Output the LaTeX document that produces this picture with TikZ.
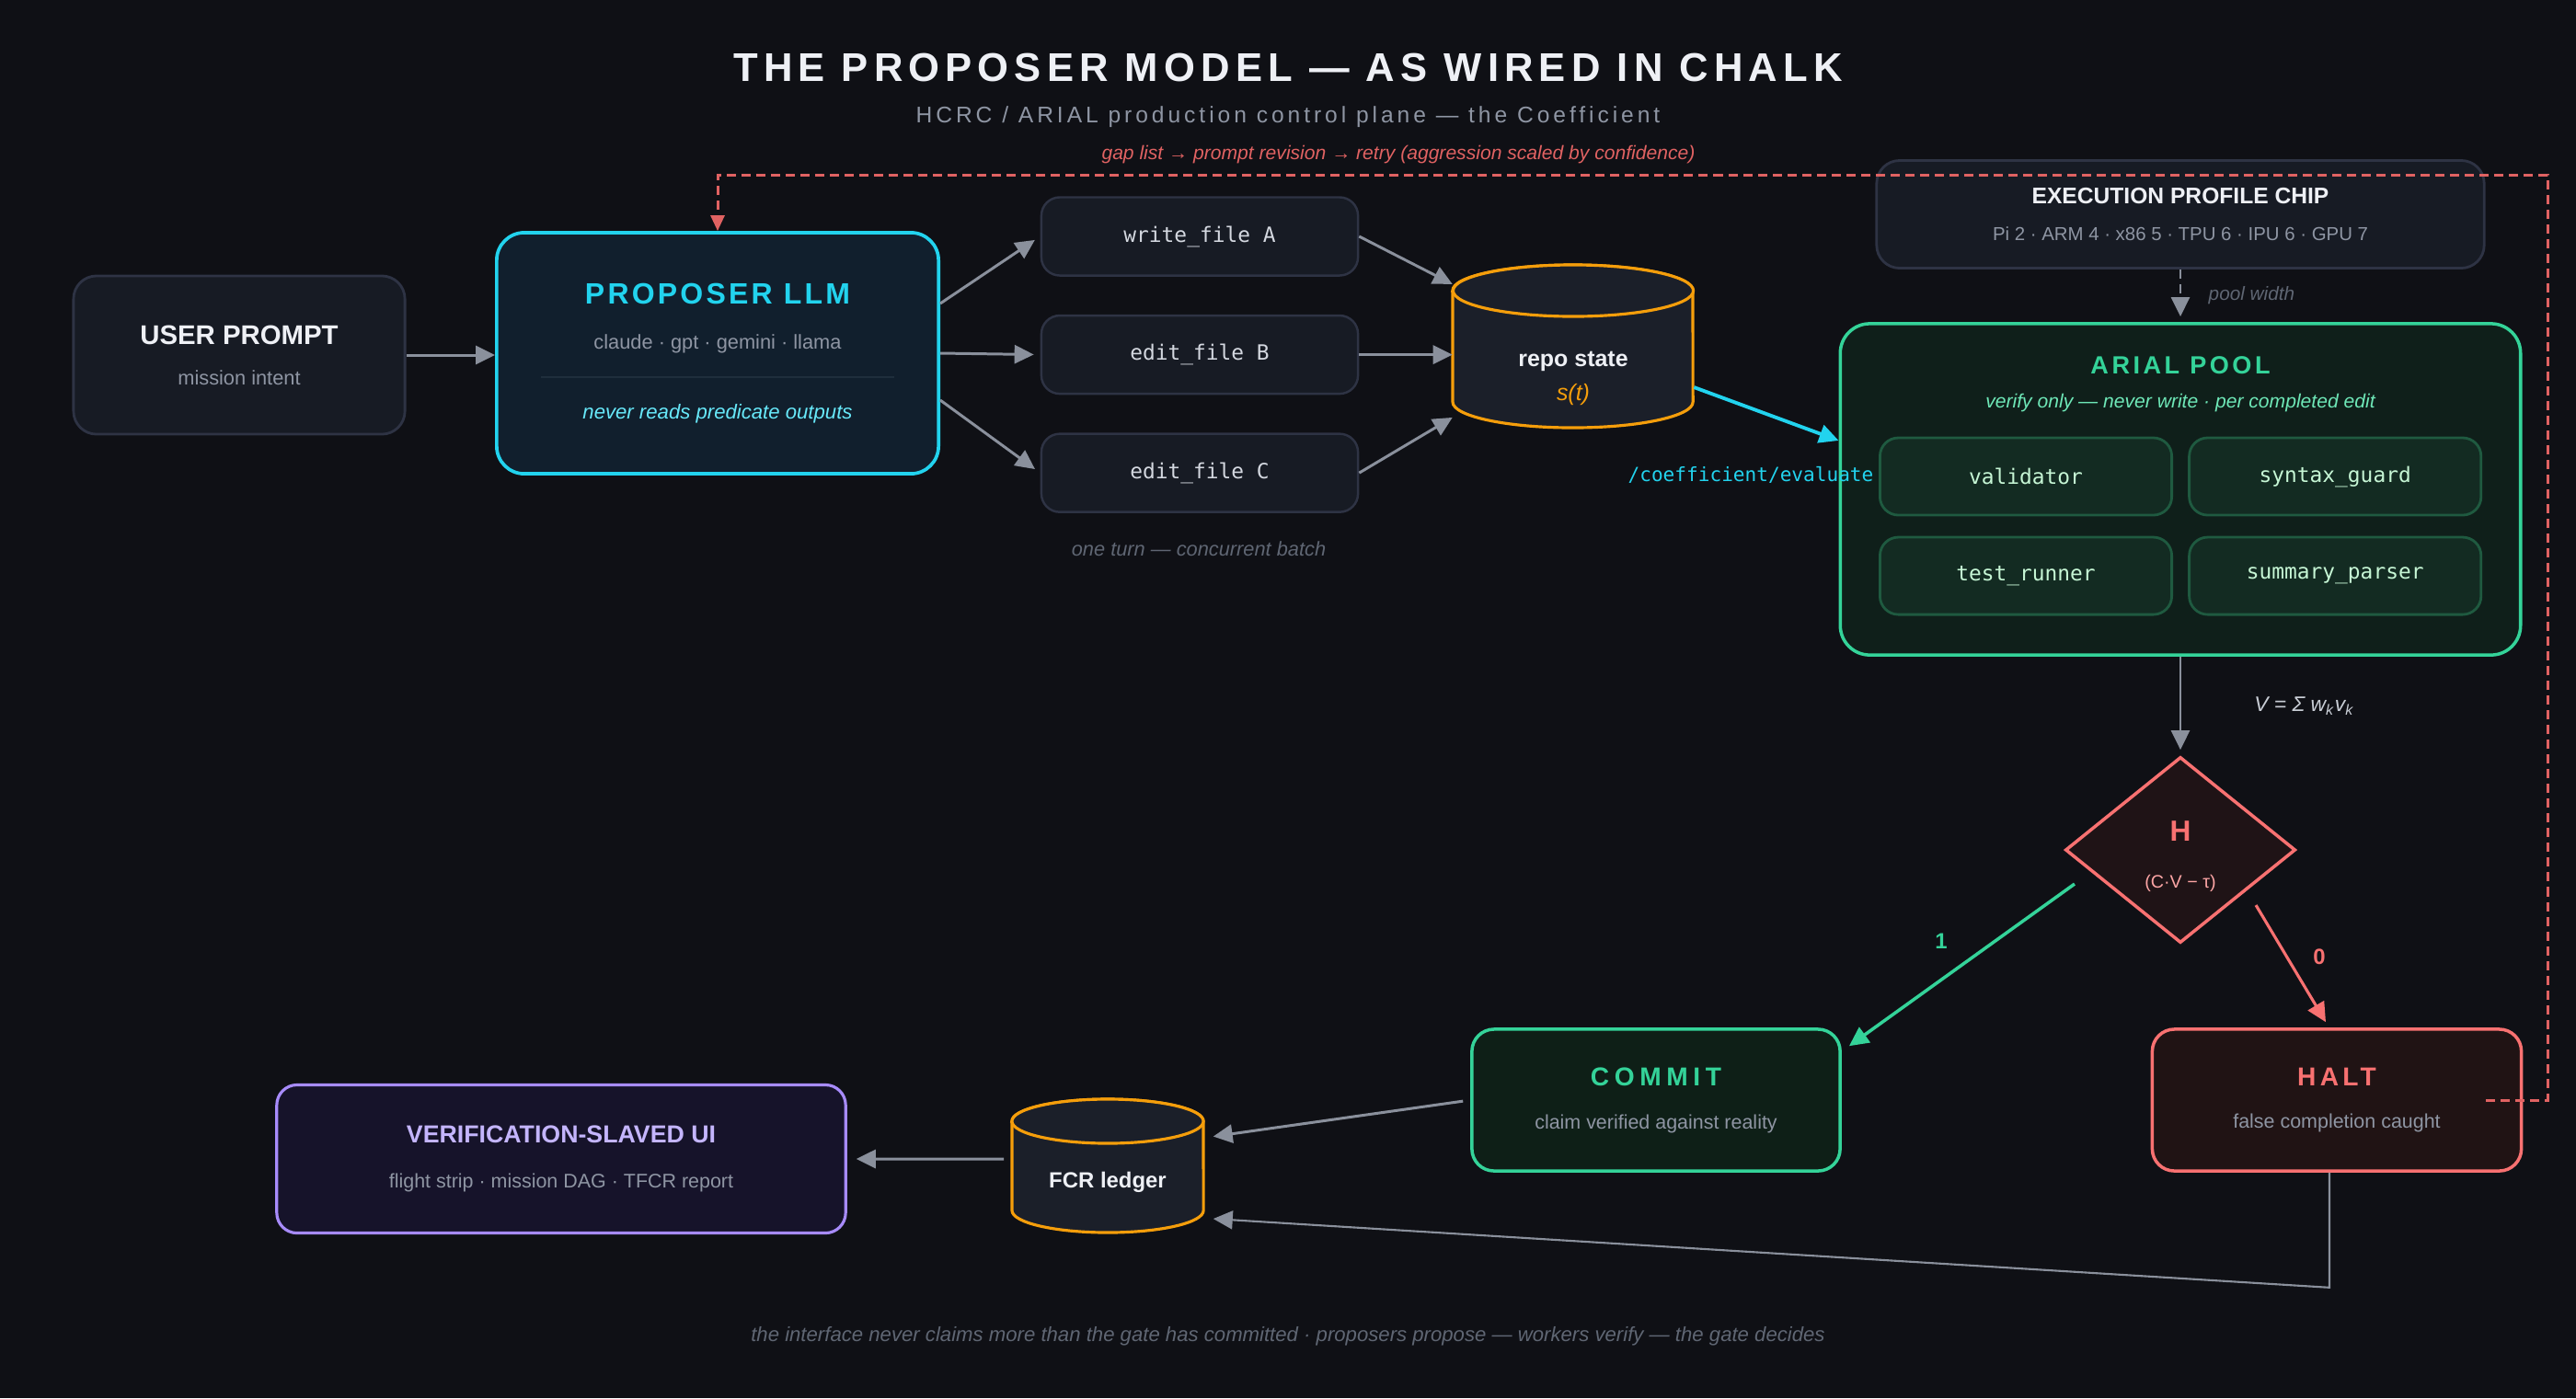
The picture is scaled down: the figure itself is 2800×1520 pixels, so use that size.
\documentclass[tikz,border=0pt]{standalone}
\usepackage{fontspec}
\setmainfont{Liberation Sans}
\setmonofont{DejaVu Sans Mono}
\usetikzlibrary{positioning,shapes.geometric,arrows.meta}

\newcommand{\fsz}[2]{\fontsize{#1}{#2}\selectfont}

\definecolor{cBg}{HTML}{0F1015}
\definecolor{cCard}{HTML}{171B24}
\definecolor{cLine}{HTML}{2E3344}
\definecolor{cWhite}{HTML}{EEF0F5}
\definecolor{cGray}{HTML}{8E95A3}
\definecolor{cDim}{HTML}{5F6673}
\definecolor{cArrow}{HTML}{8A909C}
\definecolor{cMono}{HTML}{D4D8E0}
\definecolor{cCyan}{HTML}{22D3EE}
\definecolor{cCyanLite}{HTML}{67E8F9}
\definecolor{cLlm}{HTML}{111F2D}
\definecolor{cRule}{HTML}{1F2E3C}
\definecolor{cOrange}{HTML}{F59E0B}
\definecolor{cCyl}{HTML}{1B1F29}
\definecolor{cGreen}{HTML}{34D399}
\definecolor{cGreenLite}{HTML}{6EE7B7}
\definecolor{cPool}{HTML}{0F1F1A}
\definecolor{cWork}{HTML}{132B22}
\definecolor{cWorkLine}{HTML}{1F5A40}
\definecolor{cWorkText}{HTML}{C6F6D5}
\definecolor{cCommit}{HTML}{0E1F17}
\definecolor{cRed}{HTML}{F87171}
\definecolor{cRedLite}{HTML}{FCA5A5}
\definecolor{cFeed}{HTML}{E06262}
\definecolor{cGate}{HTML}{1F1316}
\definecolor{cHalt}{HTML}{201314}
\definecolor{cPurple}{HTML}{A78BFA}
\definecolor{cPurpleLite}{HTML}{C4B5FD}
\definecolor{cUi}{HTML}{16132A}
\definecolor{cFormula}{HTML}{C9CED6}

\begin{document}
\begin{tikzpicture}[x=0.01cm, y=-0.01cm, node distance=1.285cm,
	every node/.style={align=center, inner sep=0pt},
	card/.style={rectangle, rounded corners=0.25cm, draw=cLine, fill=cCard, line width=0.8pt},
	llmcard/.style={card, draw=cCyan, fill=cLlm, line width=1.05pt, rounded corners=0.3cm},
	filecard/.style={card, rounded corners=0.2cm, line width=0.7pt, minimum width=3.44cm, minimum height=0.85cm, font=\ttfamily\fsz{6.5}{8}, text=cMono},
	poolcard/.style={card, draw=cGreen, fill=cPool, line width=1pt, rounded corners=0.32cm},
	worker/.style={card, draw=cWorkLine, fill=cWork, rounded corners=0.2cm, minimum width=3.17cm, minimum height=0.84cm, font=\ttfamily\fsz{6.5}{8}, text=cWorkText},
	gate/.style={diamond, aspect=1.24, draw=cRed, fill=cGate, line width=1pt, minimum width=2.5cm, minimum height=2.02cm},
	commitcard/.style={card, draw=cGreen, fill=cCommit, line width=1pt, rounded corners=0.24cm, minimum width=4cm, minimum height=1.54cm},
	haltcard/.style={card, draw=cRed, fill=cHalt, line width=1pt, rounded corners=0.24cm, minimum width=4.01cm, minimum height=1.54cm},
	uicard/.style={card, draw=cPurple, fill=cUi, line width=0.9pt, rounded corners=0.22cm, minimum width=6.18cm, minimum height=1.61cm},
	dbcyl/.style={draw=cOrange, fill=cCyl, line width=0.9pt},
	flow/.style={draw=cArrow, line width=0.85pt, -{Triangle[length=0.21cm, width=0.2cm]}},
	feedback/.style={draw=cFeed, line width=0.85pt, dash pattern=on 0.1cm off 0.06cm, -{Triangle[length=0.17cm, width=0.15cm]}},
	note/.style={font=\itshape\fsz{6.2}{8}, text=cDim}]

	\fill[cBg] (0,0) rectangle (2800,1520);
	\useasboundingbox (0,0) rectangle (2800,1520);

	% Heading
	\node[text=cWhite, font=\fsz{12.4}{14}\bfseries\addfontfeature{LetterSpace=14}] (title) at (1400,73) {THE PROPOSER MODEL — AS WIRED IN CHALK};
	\node[text=cGray, font=\fsz{7}{8}\addfontfeature{LetterSpace=16}] (subtitle) at (1400,127) {HCRC / ARIAL production control plane — the Coefficient};
	\node[text=cFeed, font=\itshape\fsz{6}{7}] (retry) at (1520,168) {gap list → prompt revision → retry (aggression scaled by confidence)};

	% Proposer side
	\node[card, minimum width=3.6cm, minimum height=1.72cm, font=\fsz{6.2}{12.6}] (user) at (260,386)
		{\fsz{8.35}{12.6}\bfseries\color{cWhite}USER PROMPT\\\fsz{6.2}{12.6}\color{cGray}mission intent};
	\node[llmcard, minimum width=4.8cm, minimum height=2.62cm, font=\fsz{6.2}{13.9}] (llm) at (780,384)
		{\fsz{9.1}{13.9}\bfseries\addfontfeature{LetterSpace=10}\color{cCyan}PROPOSER LLM\\\fsz{6.2}{13.9}\color{cGray}claude · gpt · gemini · llama\\[7.7pt]\fsz{6.3}{13.9}\itshape\color{cCyanLite}never reads predicate outputs};
	\draw[cRule, line width=0.6pt] ([xshift=-1.92cm,yshift=-0.26cm]llm.center) -- ([xshift=1.92cm,yshift=-0.26cm]llm.center);

	\node[filecard] (fa) at (1304,257) {write\_file A};
	\node[filecard] (fb) [below of=fa] {edit\_file B};
	\node[filecard] (fc) [below of=fb] {edit\_file C};
	\node[note] (batch) at (1303,597) {one turn — concurrent batch};

	% repo state
	\filldraw[dbcyl] (1579,316) -- (1579,437) arc[start angle=180, end angle=360, x radius=1.305cm, y radius=0.28cm] -- (1840,316) arc[start angle=0, end angle=180, x radius=1.305cm, y radius=0.28cm] -- cycle;
	\filldraw[dbcyl] (1710,316) ellipse[x radius=1.305cm, y radius=0.28cm];
	\node[minimum width=2.61cm, minimum height=1.78cm] (repo) at (1710,376) {};
	\node[font=\fsz{7.1}{10.5}] (repo-t) at (1710,411) {\fsz{7.1}{10.5}\bfseries\color{cWhite}repo state\\\fsz{7.1}{10.5}\itshape\color{cOrange}s(t)};

	% Verifier side
	\node[card, minimum width=6.6cm, minimum height=1.17cm, font=\fsz{5.8}{11.2}] (chip) at (2370,233)
		{\fsz{7}{11.2}\bfseries\color{cWhite}EXECUTION PROFILE CHIP\\\fsz{5.8}{11.2}\color{cGray}Pi 2 · ARM 4 · x86 5 · TPU 6 · IPU 6 · GPU 7};
	\node[poolcard, minimum width=7.39cm, minimum height=3.6cm] (pool) at (2370,532) {};
	\node[font=\fsz{6}{10.5}] (pool-t) at (2370,418) {\fsz{7.7}{10.5}\bfseries\addfontfeature{LetterSpace=13}\color{cGreen}ARIAL POOL\\\fsz{6}{10.5}\itshape\color{cGreenLite}verify only — never write · per completed edit};
	\node[worker] (val) at (2202,518) {validator};
	\node[worker, node distance=3.36cm] (syn) [right of=val] {syntax\_guard};
	\node[worker, node distance=1.08cm] (tst) [below of=val] {test\_runner};
	\node[worker, node distance=3.36cm] (sumpar) [right of=tst] {summary\_parser};
	\node[note, font=\itshape\fsz{5.9}{7}, anchor=west] (width) at (2400,321) {pool width};
	\node[font=\ttfamily\fsz{6}{8}, text=cCyan] (coef) at (1903,516) {/coefficient/evaluate};

	\node[gate] (gate) at (2370,924) {};
	\node[font=\fsz{5.6}{14.4}] (gate-t) at (2370,931) {\fsz{9}{14.4}\bfseries\color{cRed}H\\\fsz{5.6}{14.4}\color{cRedLite}(C·V − τ)};
	\node[commitcard, font=\fsz{6.1}{13.3}] (commit) at (1800,1196)
		{\fsz{8}{13.3}\bfseries\addfontfeature{LetterSpace=20}\color{cGreen}COMMIT\\\fsz{6.1}{13.3}\color{cGray}claim verified against reality};
	\node[haltcard, font=\fsz{6.1}{13.1}] (halt) at (2540,1196)
		{\fsz{8}{13.1}\bfseries\addfontfeature{LetterSpace=15}\color{cRed}HALT\\\fsz{6.1}{13.1}\color{cGray}false completion caught};
	\node[font=\bfseries\fsz{6.8}{8}, text=cGreen] (one) at (2110,1023) {1};
	\node[font=\bfseries\fsz{6.8}{8}, text=cRed] (zero) at (2521,1040) {0};

	% Ledger and UI
	\filldraw[dbcyl] (1100,1219) -- (1100,1316) arc[start angle=180, end angle=360, x radius=1.04cm, y radius=0.24cm] -- (1308,1219) arc[start angle=0, end angle=180, x radius=1.04cm, y radius=0.24cm] -- cycle;
	\filldraw[dbcyl] (1204,1219) ellipse[x radius=1.04cm, y radius=0.24cm];
	\node[minimum width=2.08cm, minimum height=1.45cm] (fcr) at (1204,1268) {};
	\node[font=\bfseries\fsz{6.8}{8}, text=cWhite] (fcr-t) at (1204,1285) {FCR ledger};
	\node[uicard, font=\fsz{6.1}{13.9}] (ui) at (610,1260)
		{\fsz{7.6}{13.9}\bfseries\color{cPurpleLite}VERIFICATION-SLAVED UI\\\fsz{6.1}{13.9}\color{cGray}flight strip · mission DAG · TFCR report};

	\node[note, font=\itshape\fsz{6.3}{8}] (footer) at (1400,1453) {the interface never claims more than the gate has committed · proposers propose — workers verify — the gate decides};

	% Arrows
	\draw[flow] (user) -- (user -| llm.west);
	\draw[flow, shorten >=0.07cm] ([yshift=0.54cm]llm.east) -- (fa.west);
	\draw[flow, shorten >=0.07cm] (llm.east) -- (fb.west);
	\draw[flow, shorten >=0.07cm] ([yshift=-0.51cm]llm.east) -- (fc.west);
	\draw[flow] (fa.east) -- (repo);
	\draw[flow] (fb.east) -- (fb.east -| repo.west);
	\draw[flow] (fc.east) -- (repo);
	\draw[flow, draw=cCyan, line width=1.1pt] ([yshift=-0.45cm]repo.east) -- ([yshift=0.53cm]pool.west);
	\draw[flow, line width=0.7pt, dash pattern=on 0.1cm off 0.06cm, shorten >=0.06cm] (chip) -- (pool);
	\draw[flow, line width=0.7pt, shorten >=0.06cm] (pool) -- (gate)
		node[midway, anchor=west, xshift=0.79cm, font=\itshape\fsz{6.5}{8}, text=cFormula] (vsum) {V = Σ w\textsubscript{k}v\textsubscript{k}};
	\draw[flow, draw=cGreen, line width=1pt] ([xshift=-1.15cm,yshift=-0.37cm]gate.center) -- ([xshift=0.08cm,yshift=-0.2cm]commit.north east);
	\draw[flow, draw=cRed, line width=0.9pt] ([xshift=0.82cm,yshift=-0.6cm]gate.center) -- ([xshift=-0.12cm,yshift=0.06cm]halt.north);
	\draw[flow, shorten <=0.08cm, shorten >=0.1cm] (commit.west) -- ([yshift=0.31cm]fcr.east);
	\draw[flow, line width=0.6pt] ([xshift=-0.08cm]halt.south) -- ++(0,125) -- ([xshift=0.1cm,yshift=-0.57cm]fcr.east);
	\draw[flow, shorten <=0.08cm, shorten >=0.1cm] ([yshift=0.08cm]fcr.west) -- (ui.east);

	% Retry loop
	\coordinate (loop) at (2769,190);
	\draw[feedback] ([xshift=-0.4cm]halt.east) -| (loop) -| (llm.north);
\end{tikzpicture}
\end{document}
